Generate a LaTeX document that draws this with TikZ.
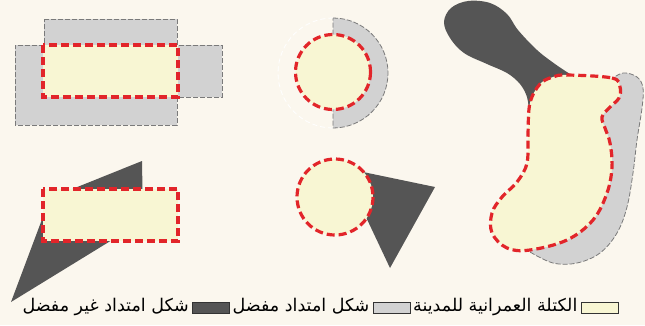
\documentclass[tikz,border=0pt]{standalone}
\usepackage{fontspec}
\newfontfamily\arabicfont[Script=Arabic]{DejaVu Sans}
\TeXXeTstate=1
\usetikzlibrary{positioning}
\definecolor{bgc}{HTML}{FBF7EE}
\definecolor{cityc}{HTML}{F8F6D3}
\definecolor{goodc}{HTML}{D2D2D2}
\definecolor{badc}{HTML}{555555}
\definecolor{redc}{HTML}{E2252A}
\definecolor{edgec}{HTML}{7A7A7A}
\tikzset{
  city/.style={fill=cityc, draw=redc, line width=3.2pt, dash pattern=on 8pt off 4pt},
  good/.style={fill=goodc},
  goodedge/.style={draw=edgec, line width=0.8pt, dash pattern=on 5pt off 2pt},
  bad/.style={fill=badc},
  legbox/.style={draw=black!80, line width=0.8pt, minimum width=37pt, minimum height=11pt, inner sep=0pt},
  legtext/.style={font=\arabicfont\fontsize{17.5}{20}\selectfont, inner sep=0pt, anchor=base east}
}
\begin{document}
\begin{tikzpicture}[x=1pt,y=-1pt]
\fill[bgc] (0,0) rectangle (645,325);
\useasboundingbox (0,0) rectangle (645,325);

% --- shape 1: rectangle with preferred extension ---
\path[good, goodedge] (44,19) -- (177,19) -- (177,45) -- (222,45) -- (222,97) -- (177,97) -- (177,125) -- (15,125) -- (15,45) -- (44,45) -- cycle;
\path[city] (43,45) rectangle (178,97);

% --- shape 2: circle with half ring ---
\fill[good] (333,18) arc[start angle=-90, end angle=90, radius=55] -- cycle;
\draw[goodedge] (333,18) arc[start angle=-90, end angle=90, radius=55] -- cycle;
\draw[white, line width=0.8pt, dash pattern=on 5pt off 3pt] (333,128) arc[start angle=90, end angle=270, radius=55];
\path[city] (333,72) circle[radius=37.5];

% --- shape 3: rectangle with triangle ---
\fill[bad] (142,161) -- (143,221) -- (11,302) -- (50,198) -- cycle;
\path[city] (43,189) rectangle (178,241);

% --- shape 4: circle with triangle ---
\fill[bad] (363,172) -- (435,187) -- (390,268) -- (365,215) -- cycle;
\path[city] (335,197) circle[radius=38];

% --- shape 5: irregular city ---
\fill[bad] plot[smooth, tension=0.6] coordinates {(529,112) (527,97) (520,84) (507,73) (487,64) (464,53) (450,38) (444,22) (451,8) (468,1) (490,3) (507,14) (518,30) (537,50) (555,64) (570,74)} -- (585,100) -- cycle;
\path[good] plot[smooth, tension=0.6] coordinates {(610,80) (623,73) (637,77) (643,88) (642,108) (637,140) (633,173) (627,207) (617,233) (600,253) (577,263) (553,263) (530,252)} -- (560,200) -- (595,120) -- cycle;
\draw[goodedge] plot[smooth, tension=0.6] coordinates {(610,80) (623,73) (637,77) (643,88) (642,108) (637,140) (633,173) (627,207) (617,233) (600,253) (577,263) (553,263) (530,252)};
\path[city] plot[smooth cycle, tension=0.6] coordinates {(567,75) (612,78) (620,87) (619,98) (610,107) (602,117) (605,128) (610,143) (612,167) (607,193) (593,220) (567,240) (530,250) (507,248) (492,233) (492,213) (502,197) (517,182) (527,163) (528,133) (530,103) (540,84) (553,77)};

% --- legend ---
\node[legbox, fill=cityc] (lcity) at (599.5,307.5) {};
\node[legbox, fill=goodc] (lgood) at (391.5,307.5) {};
\node[legbox, fill=badc] (lbad) at (211,307.5) {};
\node[legtext] (tcity) at ([xshift=-3pt,yshift=-4pt]lcity.west) {\beginR الكتلة العمرانية للمدينة\endR};
\node[legtext] (tgood) at ([xshift=-3pt,yshift=-4pt]lgood.west) {\beginR شكل امتداد مفضل\endR};
\node[legtext] (tbad) at ([xshift=-3pt,yshift=-4pt]lbad.west) {\beginR شكل امتداد غير مفضل\endR};
\end{tikzpicture}
\end{document}
